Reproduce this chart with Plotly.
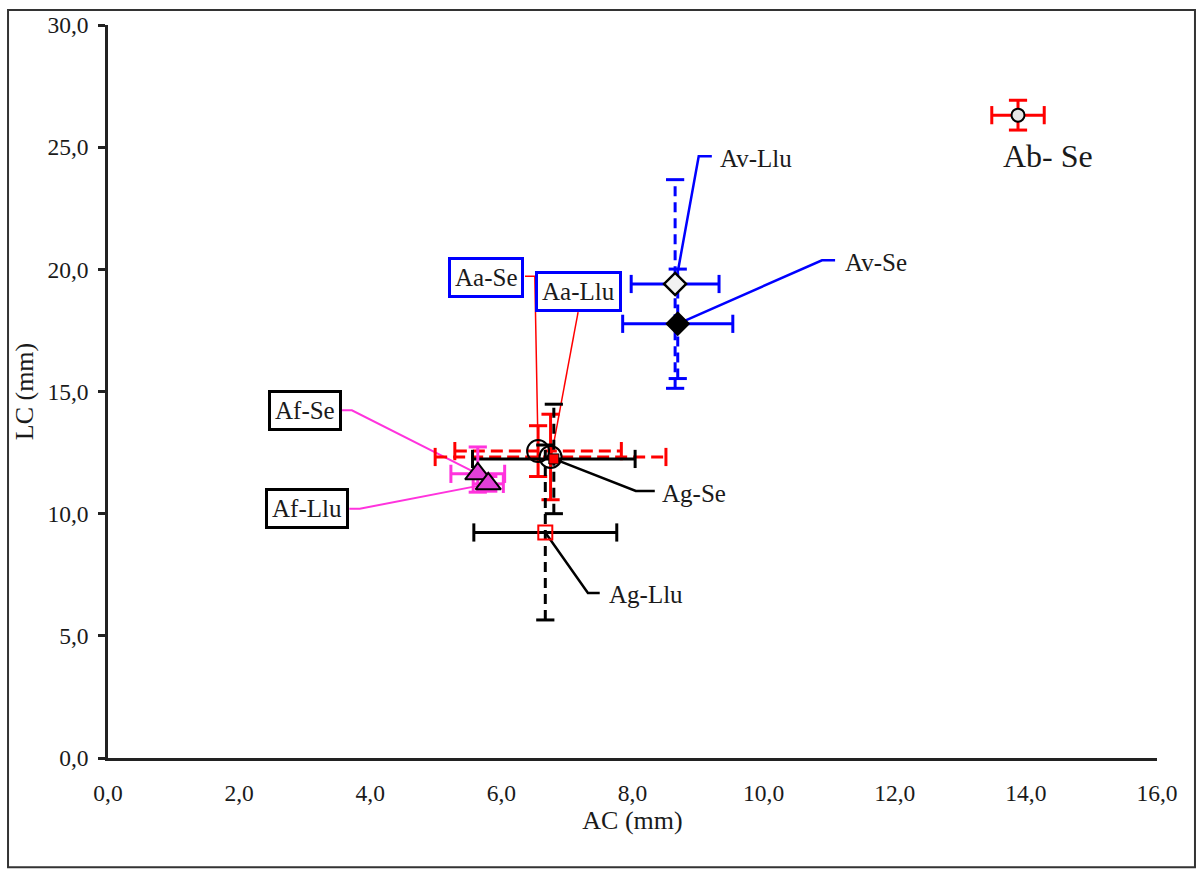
import plotly.graph_objects as go

# ---------------- data ----------------
names = ["Ab-Se", "Av-Llu", "Av-Se", "Aa-Se", "Aa-Llu", "Ag-Se", "Ag-Llu", "Af-Se", "Af-Llu"]
ac = [13.88, 8.65, 8.69, 6.56, 6.75, 6.80, 6.67, 5.64, 5.80]
lc = [26.31, 19.40, 17.77, 12.56, 12.32, 12.24, 9.23, 11.63, 11.22]
ac_err = [0.40, 0.67, 0.84, 1.27, 1.76, 1.24, 1.09, 0.41, 0.23]
lc_err_up = [0.61, 4.27, 2.24, 1.04, 1.75, 2.24, 3.58, 1.10, 0.30]
lc_err_down = [0.61, 4.27, 2.24, 1.04, 1.75, 2.24, 3.58, 0.75, 0.30]

x_ticks = [0, 2, 4, 6, 8, 10, 12, 14, 16]
x_tick_text = ["0,0", "2,0", "4,0", "6,0", "8,0", "10,0", "12,0", "14,0", "16,0"]
y_ticks = [0, 5, 10, 15, 20, 25, 30]
y_tick_text = ["0,0", "5,0", "10,0", "15,0", "20,0", "25,0", "30,0"]

# ---------------- styles ----------------
MAG = "#FF33DD"
err_color = ["red", "blue", "blue", "red", "red", "black", "black", MAG, MAG]
x_dash = ["solid", "solid", "solid", "12px,6px", "12px,6px", "solid", "solid", "solid", "solid"]
y_dash = ["solid", "10px,6px", "10px,6px", "solid", "solid", "10px,6px", "10px,6px", "solid", "solid"]

m_symbol = ["circle", "diamond", "diamond", "circle-open", "circle-open", "square", "square-open",
            "triangle-up", "triangle-up"]
m_size = [13, 17, 17, 22, 22, 10, 14, 22, 22]
m_fill = ["#E6E6E6", "#F2F2F2", "black", "black", "black", "red", "red", "#E23FD8", "#E23FD8"]
m_line = ["black", "black", "black", "black", "black", "black", "red", "black", "black"]
m_lw = [2, 2.5, 2, 2, 2, 1, 2, 2, 2]

# label annotations (data coords)
label_text = ["Ab- Se", "Av-Llu", "Av-Se", "Aa-Se", "Aa-Llu", "Ag-Se", "Ag-Llu", "Af-Se", "Af-Llu"]
label_x = [14.34, 9.30, 11.21, 5.77, 7.17, 8.42, 7.61, 3.00, 3.03]
label_y = [24.63, 24.55, 20.28, 19.67, 19.11, 10.81, 6.71, 14.21, 10.20]
label_anchor = ["center", "left", "left", "center", "center", "left", "left", "center", "center"]
label_size = [32, 25, 25, 25, 25, 25, 25, 25, 25]
label_border = [None, None, None, "blue", "blue", None, None, "black", "black"]

# leader lines (data coords)
leaders = [
    ([8.68, 9.01, 9.21], [19.74, 24.63, 24.63], "blue", 2.5),
    ([8.69, 10.89, 11.09], [17.77, 20.37, 20.37], "blue", 2.5),
    ([6.36, 6.51, 6.56], [19.72, 19.72, 12.56], "red", 1.5),
    ([7.17, 6.76], [18.25, 12.32], "red", 1.5),
    ([3.57, 3.72, 5.64], [14.23, 14.23, 11.63], MAG, 2),
    ([3.68, 3.84, 5.80], [10.20, 10.20, 11.22], MAG, 2),
    ([6.80, 8.05, 8.34], [12.24, 10.93, 10.93], "black", 2.5),
    ([6.67, 7.32, 7.50], [9.23, 6.75, 6.75], "black", 2.5),
]

FONT = "Liberation Serif, Times New Roman, serif"

fig = go.Figure()

# leader lines
for lx, ly, col, w in leaders:
    fig.add_trace(go.Scatter(x=lx, y=ly, mode="lines", line=dict(color=col, width=w),
                             hoverinfo="skip", showlegend=False))

# error bars
for i in range(len(names)):
    x, y, xe, c = ac[i], lc[i], ac_err[i], err_color[i]
    y0, y1 = y - lc_err_down[i], y + lc_err_up[i]
    fig.add_trace(go.Scatter(x=[x - xe, x + xe], y=[y, y], mode="lines",
                             line=dict(color=c, width=3, dash=x_dash[i]),
                             hoverinfo="skip", showlegend=False))
    fig.add_trace(go.Scatter(x=[x - xe, x + xe], y=[y, y], mode="markers",
                             marker=dict(symbol="line-ns", size=13, line=dict(color=c, width=3)),
                             hoverinfo="skip", showlegend=False))
    fig.add_trace(go.Scatter(x=[x, x], y=[y0, y1], mode="lines",
                             line=dict(color=c, width=3, dash=y_dash[i]),
                             hoverinfo="skip", showlegend=False))
    fig.add_trace(go.Scatter(x=[x, x], y=[y0, y1], mode="markers",
                             marker=dict(symbol="line-ew", size=13, line=dict(color=c, width=3)),
                             hoverinfo="skip", showlegend=False))

# markers
for i in range(len(names)):
    fig.add_trace(go.Scatter(x=[ac[i]], y=[lc[i]], mode="markers", name=names[i],
                             marker=dict(symbol=m_symbol[i], size=m_size[i], color=m_fill[i],
                                         line=dict(color=m_line[i], width=m_lw[i])),
                             showlegend=False))

# labels
for i in range(len(label_text)):
    kw = dict(x=label_x[i], y=label_y[i], xref="x", yref="y", text=label_text[i],
              showarrow=False, xanchor=label_anchor[i], yanchor="middle",
              font=dict(family=FONT, size=label_size[i], color="#1a1a1a"))
    if label_border[i]:
        kw.update(bordercolor=label_border[i], borderwidth=3, borderpad=4, bgcolor="white")
    fig.add_annotation(**kw)

# outer frame
fig.add_shape(type="rect", xref="paper", yref="paper", x0=-0.0953, x1=1.0362, y0=-0.1491, y1=1.0203,
              line=dict(color="#333333", width=2), layer="below")

fig.update_layout(
    width=1201, height=871,
    margin=dict(l=108, r=44, t=18, b=113),
    plot_bgcolor="white", paper_bgcolor="white",
    font=dict(family=FONT, size=23.5, color="#1a1a1a"),
    xaxis=dict(range=[0, 16], tickvals=x_ticks, ticktext=x_tick_text, showgrid=False, zeroline=False,
               showline=True, linecolor="#222", linewidth=2.5, ticks="", ticklabelstandoff=12,
               title=dict(text="AC (mm)", standoff=6, font=dict(size=26))),
    yaxis=dict(range=[0, 30], tickvals=y_ticks, ticktext=y_tick_text, showgrid=False, zeroline=False,
               showline=True, linecolor="#222", linewidth=2.5, ticks="outside", ticklen=7,
               tickwidth=2.5, tickcolor="#222", ticklabelstandoff=5,
               title=dict(text="LC (mm)", standoff=7, font=dict(size=26))),
)

fig.write_html("out.html", config={"displayModeBar": False},
               post_script="document.body.style.margin='0';document.body.style.overflow='hidden';")
